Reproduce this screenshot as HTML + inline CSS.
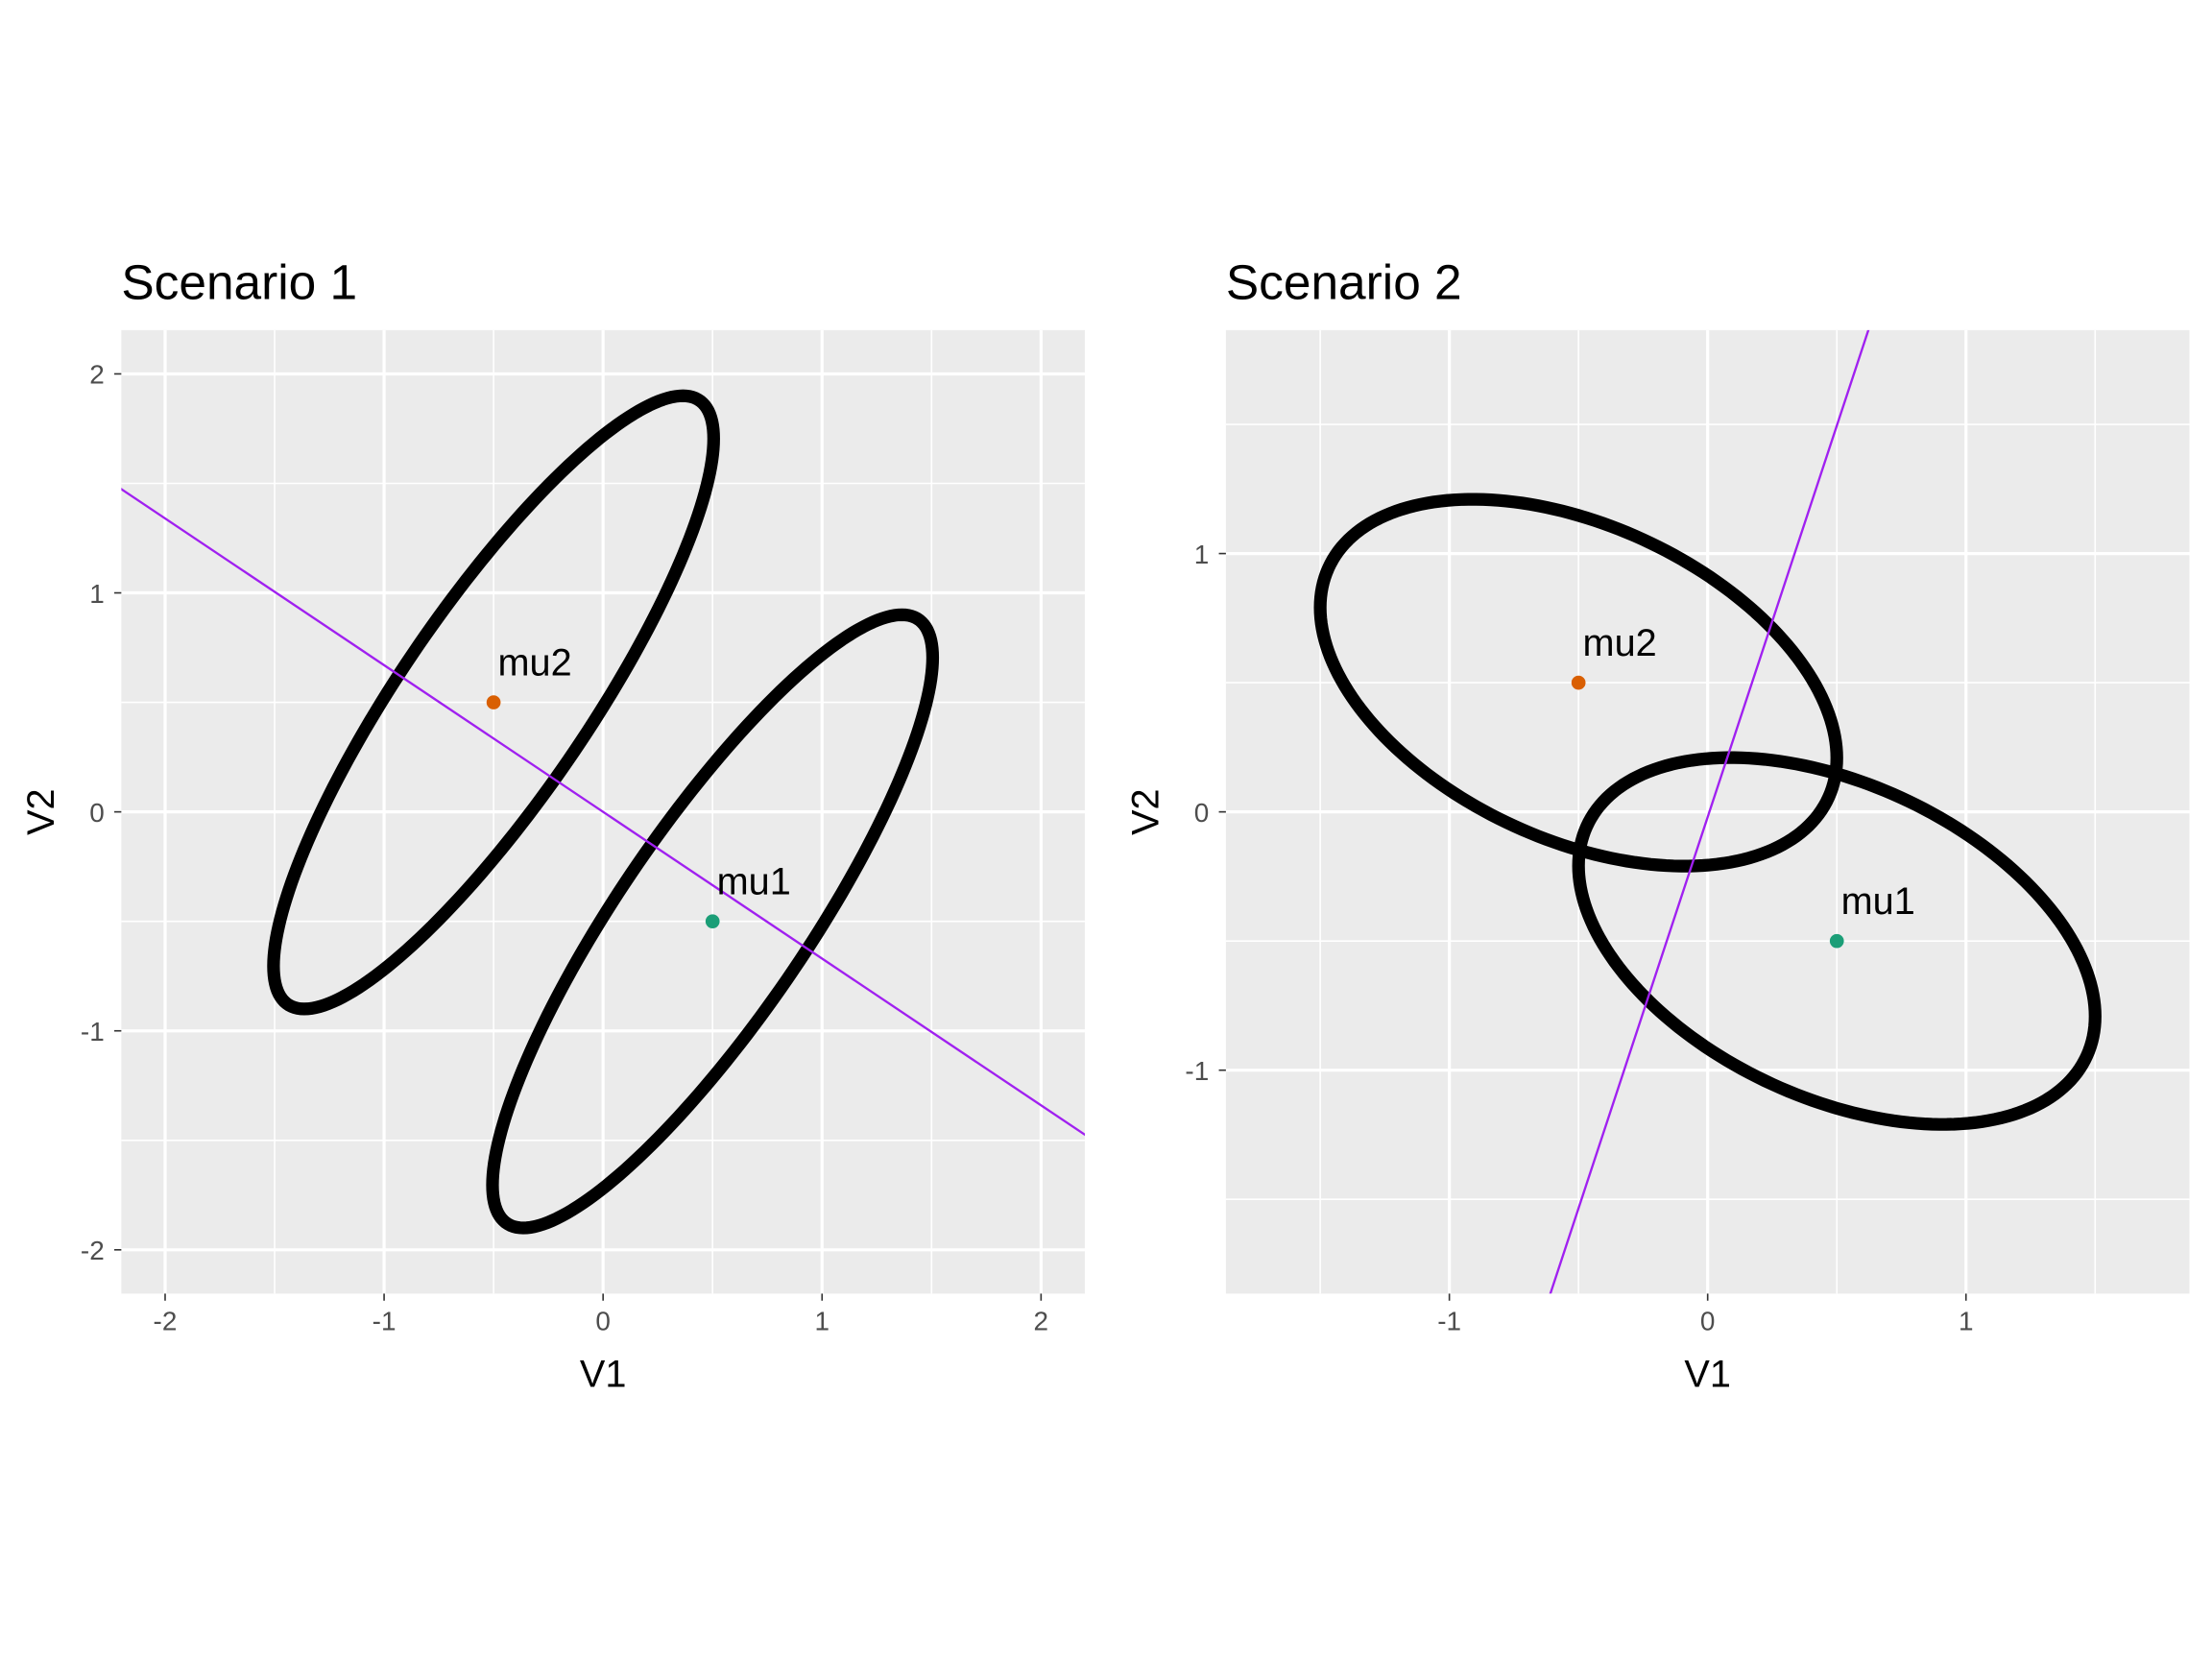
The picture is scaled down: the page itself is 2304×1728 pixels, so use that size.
<!DOCTYPE html>
<html><head><meta charset="utf-8"><style>
html,body{margin:0;padding:0;background:#fff;overflow:hidden;width:2304px;height:1728px}
svg{display:block}
text{font-family:"Liberation Sans",Arial,sans-serif}
</style></head><body>
<svg id="chart" width="2304" height="1728" viewBox="0 0 1568 1176" xmlns="http://www.w3.org/2000/svg">
<rect width="1568" height="1176" fill="#fff"/>
</svg>
<script>
// Scenario data
const panelNames = ["Scenario 1", "Scenario 2"];
const centersX = [0.5, -0.5];
const centersY = [-0.5, 0.5];
const centerLabels = ["mu1", "mu2"];
const centerColors = ["#1B9E77", "#D95F02"];
// ellipse params per scenario: semi x extent, semi y extent, correlation
const ellA = [1.005, 1.0];
const ellB = [1.40, 0.71];
const ellRho = [0.86, -0.41];
// discriminant line slopes
const lineSlope = [-0.67, 3.03];
const lineIntercept = [0, -0.02];
const ticks1 = [-2, -1, 0, 1, 2];
const minor1 = [-1.5, -0.5, 0.5, 1.5];
const ticks2 = [-1, 0, 1];
const minor2 = [-1.5, -0.5, 0.5, 1.5];
const lim1 = [-2.2, 2.2];
const lim2 = [-1.865, 1.865];

const NS = "http://www.w3.org/2000/svg";
const svg = document.getElementById("chart");
function mk(tag, attrs, parent) {
  const e = document.createElementNS(NS, tag);
  for (const k in attrs) e.setAttribute(k, attrs[k]);
  (parent || svg).appendChild(e);
  return e;
}
const panels = [
  {x0: 86, x1: 769, y0: 234, y1: 917, lim: lim1, ticks: ticks1, minor: minor1},
  {x0: 869, x1: 1552, y0: 234, y1: 917, lim: lim2, ticks: ticks2, minor: minor2}
];
panels.forEach((p, i) => {
  const g = mk("g", {});
  
  
  const sx = v => p.x0 + (v - p.lim[0]) / (p.lim[1] - p.lim[0]) * (p.x1 - p.x0);
  const sy = v => p.y1 - (v - p.lim[0]) / (p.lim[1] - p.lim[0]) * (p.y1 - p.y0);
  const clip = "clip" + i;
  const cp = mk("clipPath", {id: clip}, g);
  mk("rect", {x: p.x0, y: p.y0, width: p.x1 - p.x0, height: p.y1 - p.y0}, cp);
  const bg = mk("rect", {x: p.x0, y: p.y0, width: p.x1 - p.x0, height: p.y1 - p.y0, fill: "#EBEBEB"}, g);
  
  
  p.minor.forEach(v => {
    mk("line", {x1: sx(v), x2: sx(v), y1: p.y0, y2: p.y1, stroke: "#fff", "stroke-width": 1.1}, g);
    mk("line", {x1: p.x0, x2: p.x1, y1: sy(v), y2: sy(v), stroke: "#fff", "stroke-width": 1.1}, g);
  });
  p.ticks.forEach(v => {
    mk("line", {x1: sx(v), x2: sx(v), y1: p.y0, y2: p.y1, stroke: "#fff", "stroke-width": 2.2}, g);
    mk("line", {x1: p.x0, x2: p.x1, y1: sy(v), y2: sy(v), stroke: "#fff", "stroke-width": 2.2}, g);
    mk("line", {x1: sx(v), x2: sx(v), y1: p.y1, y2: p.y1 + 5, stroke: "#333", "stroke-width": 1.1}, g);
    mk("line", {x1: p.x0 - 5, x2: p.x0, y1: sy(v), y2: sy(v), stroke: "#333", "stroke-width": 1.1}, g);
    const tx = mk("text", {x: sx(v), y: p.y1 + 26, "text-anchor": "middle", "font-size": 19, fill: "#4D4D4D"}, g);
    tx.textContent = v;
    
    
    const ty = mk("text", {x: p.x0 - 12, y: sy(v) + 7, "text-anchor": "end", "font-size": 19, fill: "#4D4D4D"}, g);
    ty.textContent = v;
    
    
  });
  const inner = mk("g", {"clip-path": "url(#" + clip + ")"}, g);
  for (let k = 0; k < 2; k++) {
    let d = "";
    for (let j = 0; j <= 200; j++) {
      const t = j / 200 * 2 * Math.PI;
      const x = centersX[k] + ellA[i] * Math.cos(t);
      const y = centersY[k] + ellB[i] * (ellRho[i] * Math.cos(t) + Math.sqrt(1 - ellRho[i] * ellRho[i]) * Math.sin(t));
      d += (j ? "L" : "M") + sx(x).toFixed(2) + "," + sy(y).toFixed(2);
    }
    const el = mk("path", {d: d + "Z", fill: "none", stroke: "#000", "stroke-width": 9}, inner);
    
    
  }
  const xa = -5, xb = 5;
  const ln = mk("line", {x1: sx(xa), y1: sy(lineSlope[i] * xa + lineIntercept[i]), x2: sx(xb), y2: sy(lineSlope[i] * xb + lineIntercept[i]), stroke: "#A020F0", "stroke-width": 1.6}, inner);
  
  
  for (let k = 0; k < 2; k++) {
    const c = mk("circle", {cx: sx(centersX[k]), cy: sy(centersY[k]), r: 5, fill: centerColors[k]}, inner);
    
    
    const lt = mk("text", {x: sx(centersX[k]) + 3, y: sy(centersY[k]) - 19, "font-size": 27, fill: "#000"}, inner);
    lt.textContent = centerLabels[k];
    
    
  }
  const ti = mk("text", {x: p.x0, y: 212, "font-size": 35, fill: "#000"}, g);
  ti.textContent = panelNames[i];
  
  
  const xt = mk("text", {x: (p.x0 + p.x1) / 2, y: 983, "text-anchor": "middle", "font-size": 27, fill: "#000"}, g);
  xt.textContent = "V1";
  
  
  const yx = p.x0 - 48, yy = (p.y0 + p.y1) / 2;
  const yt = mk("text", {x: yx, y: yy, "text-anchor": "middle", "font-size": 27, fill: "#000", transform: "rotate(-90 " + yx + " " + yy + ")"}, g);
  yt.textContent = "V2";
  
  
});
</script>
</body></html>
